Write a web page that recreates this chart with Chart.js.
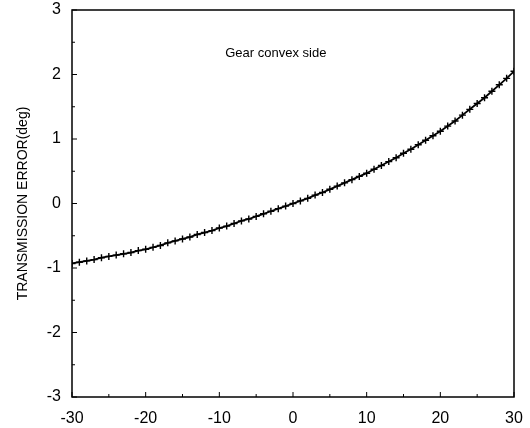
<!DOCTYPE html>
<html>
<head>
<meta charset="utf-8">
<script src="https://cdn.jsdelivr.net/npm/chart.js@4.4.1/dist/chart.umd.min.js"></script>
<style>
  html, body { margin: 0; padding: 0; background: #fff; }
  #wrap { width: 530px; height: 428px; }
</style>
</head>
<body>
<div id="wrap"><canvas id="teChart" width="530" height="428"></canvas></div>
<script>
// rotation angle (deg) and transmission error (deg)
const angle = [
  -30, -29, -28, -27, -26, -25, -24, -23, -22, -21,
  -20, -19, -18, -17, -16, -15, -14, -13, -12, -11,
  -10, -9, -8, -7, -6, -5, -4, -3, -2, -1,
  0, 1, 2, 3, 4, 5, 6, 7, 8, 9,
  10, 11, 12, 13, 14, 15, 16, 17, 18, 19,
  20, 21, 22, 23, 24, 25, 26, 27, 28, 29, 30
];
const transError = [
  -0.93, -0.91, -0.89, -0.87, -0.84, -0.82, -0.80, -0.78, -0.76, -0.73,
  -0.71, -0.68, -0.65, -0.61, -0.58, -0.55, -0.52, -0.48, -0.45, -0.42,
  -0.38, -0.35, -0.31, -0.27, -0.24, -0.20, -0.16, -0.12, -0.08, -0.04,
  0.00, 0.04, 0.08, 0.13, 0.17, 0.22, 0.27, 0.32, 0.37, 0.42,
  0.47, 0.53, 0.59, 0.65, 0.71, 0.78, 0.84, 0.91, 0.98, 1.05,
  1.12, 1.20, 1.28, 1.37, 1.46, 1.55, 1.64, 1.74, 1.84, 1.94, 2.05
];
const xTicks = [-30, -20, -10, 0, 10, 20, 30];
const yTicks = [-3, -2, -1, 0, 1, 2, 3];
const yLabel = "TRANSMISSION ERROR(deg)";
const note = "Gear convex side";

// box around the plot, inward tick marks and the in-plot note
const framePlugin = {
    id: "frame",
    afterDatasetsDraw(chart) {
        const { ctx, chartArea: a, scales } = chart;
        const x = scales.x, y = scales.y;
        ctx.save();
        ctx.strokeStyle = "#000";
        ctx.lineWidth = 1.5;
        ctx.strokeRect(a.left, a.top, a.right - a.left, a.bottom - a.top);

        ctx.lineWidth = 1;
        ctx.beginPath();
        for (let v = yTicks[0]; v <= yTicks[yTicks.length - 1]; v += 0.5) {
            const py = y.getPixelForValue(v);
            const len = Number.isInteger(v) ? 5 : 3;
            ctx.moveTo(a.left, py);
            ctx.lineTo(a.left + len, py);
        }
        for (let v = xTicks[0]; v <= xTicks[xTicks.length - 1]; v += 5) {
            const px = x.getPixelForValue(v);
            const len = v % 10 === 0 ? 5 : 3;
            ctx.moveTo(px, a.bottom);
            ctx.lineTo(px, a.bottom - len);
        }
        ctx.stroke();

        ctx.fillStyle = "#000";
        ctx.font = '13px "Liberation Sans"';
        ctx.textBaseline = "middle";
        ctx.textAlign = "left";
        ctx.fillText(note, x.getPixelForValue(-9.2), y.getPixelForValue(2.32));
        ctx.restore();
    }
};

const ctx = document.getElementById("teChart");

new Chart(ctx, {
    type: "line",
    data: {
        datasets: [{
            data: angle.map((v, i) => ({ x: v, y: transError[i] })),
            borderColor: "#000",
            backgroundColor: "#000",
            borderWidth: 1.8,
            pointStyle: "cross",
            pointRadius: 3.5,
            pointBorderWidth: 1.4,
            pointHoverRadius: 3.5,
            tension: 0,
            fill: false
        }]
    },
    options: {
        responsive: false,
        animation: false,
        layout: {
            padding: { top: 10, right: 16, left: 0, bottom: 0 }
        },
        plugins: {
            legend: { display: false },
            tooltip: { enabled: false }
        },
        scales: {
            x: {
                type: "linear",
                min: xTicks[0],
                max: xTicks[xTicks.length - 1],
                afterBuildTicks: (s) => { s.ticks = xTicks.map(v => ({ value: v })); },
                afterFit: (s) => { s.height = 31; s.paddingLeft = 0; s.paddingRight = 0; },
                grid: { display: false, drawTicks: false },
                border: { display: false },
                ticks: {
                    color: "#000",
                    padding: 12,
                    maxRotation: 0,
                    font: { family: "Liberation Sans", size: 16 }
                }
            },
            y: {
                type: "linear",
                min: yTicks[0],
                max: yTicks[yTicks.length - 1],
                afterBuildTicks: (s) => { s.ticks = yTicks.map(v => ({ value: v })); },
                afterFit: (s) => { s.width = 72; s.paddingTop = 0; s.paddingBottom = 0; },
                grid: { display: false, drawTicks: false },
                border: { display: false },
                ticks: {
                    color: "#000",
                    padding: 11,
                    font: { family: "Liberation Sans", size: 16 }
                },
                title: {
                    display: true,
                    text: yLabel,
                    color: "#000",
                    padding: { top: 15, bottom: 0 },
                    font: { family: "Liberation Sans", size: 14 }
                }
            }
        }
    },
    plugins: [framePlugin]
});
</script>
</body>
</html>
